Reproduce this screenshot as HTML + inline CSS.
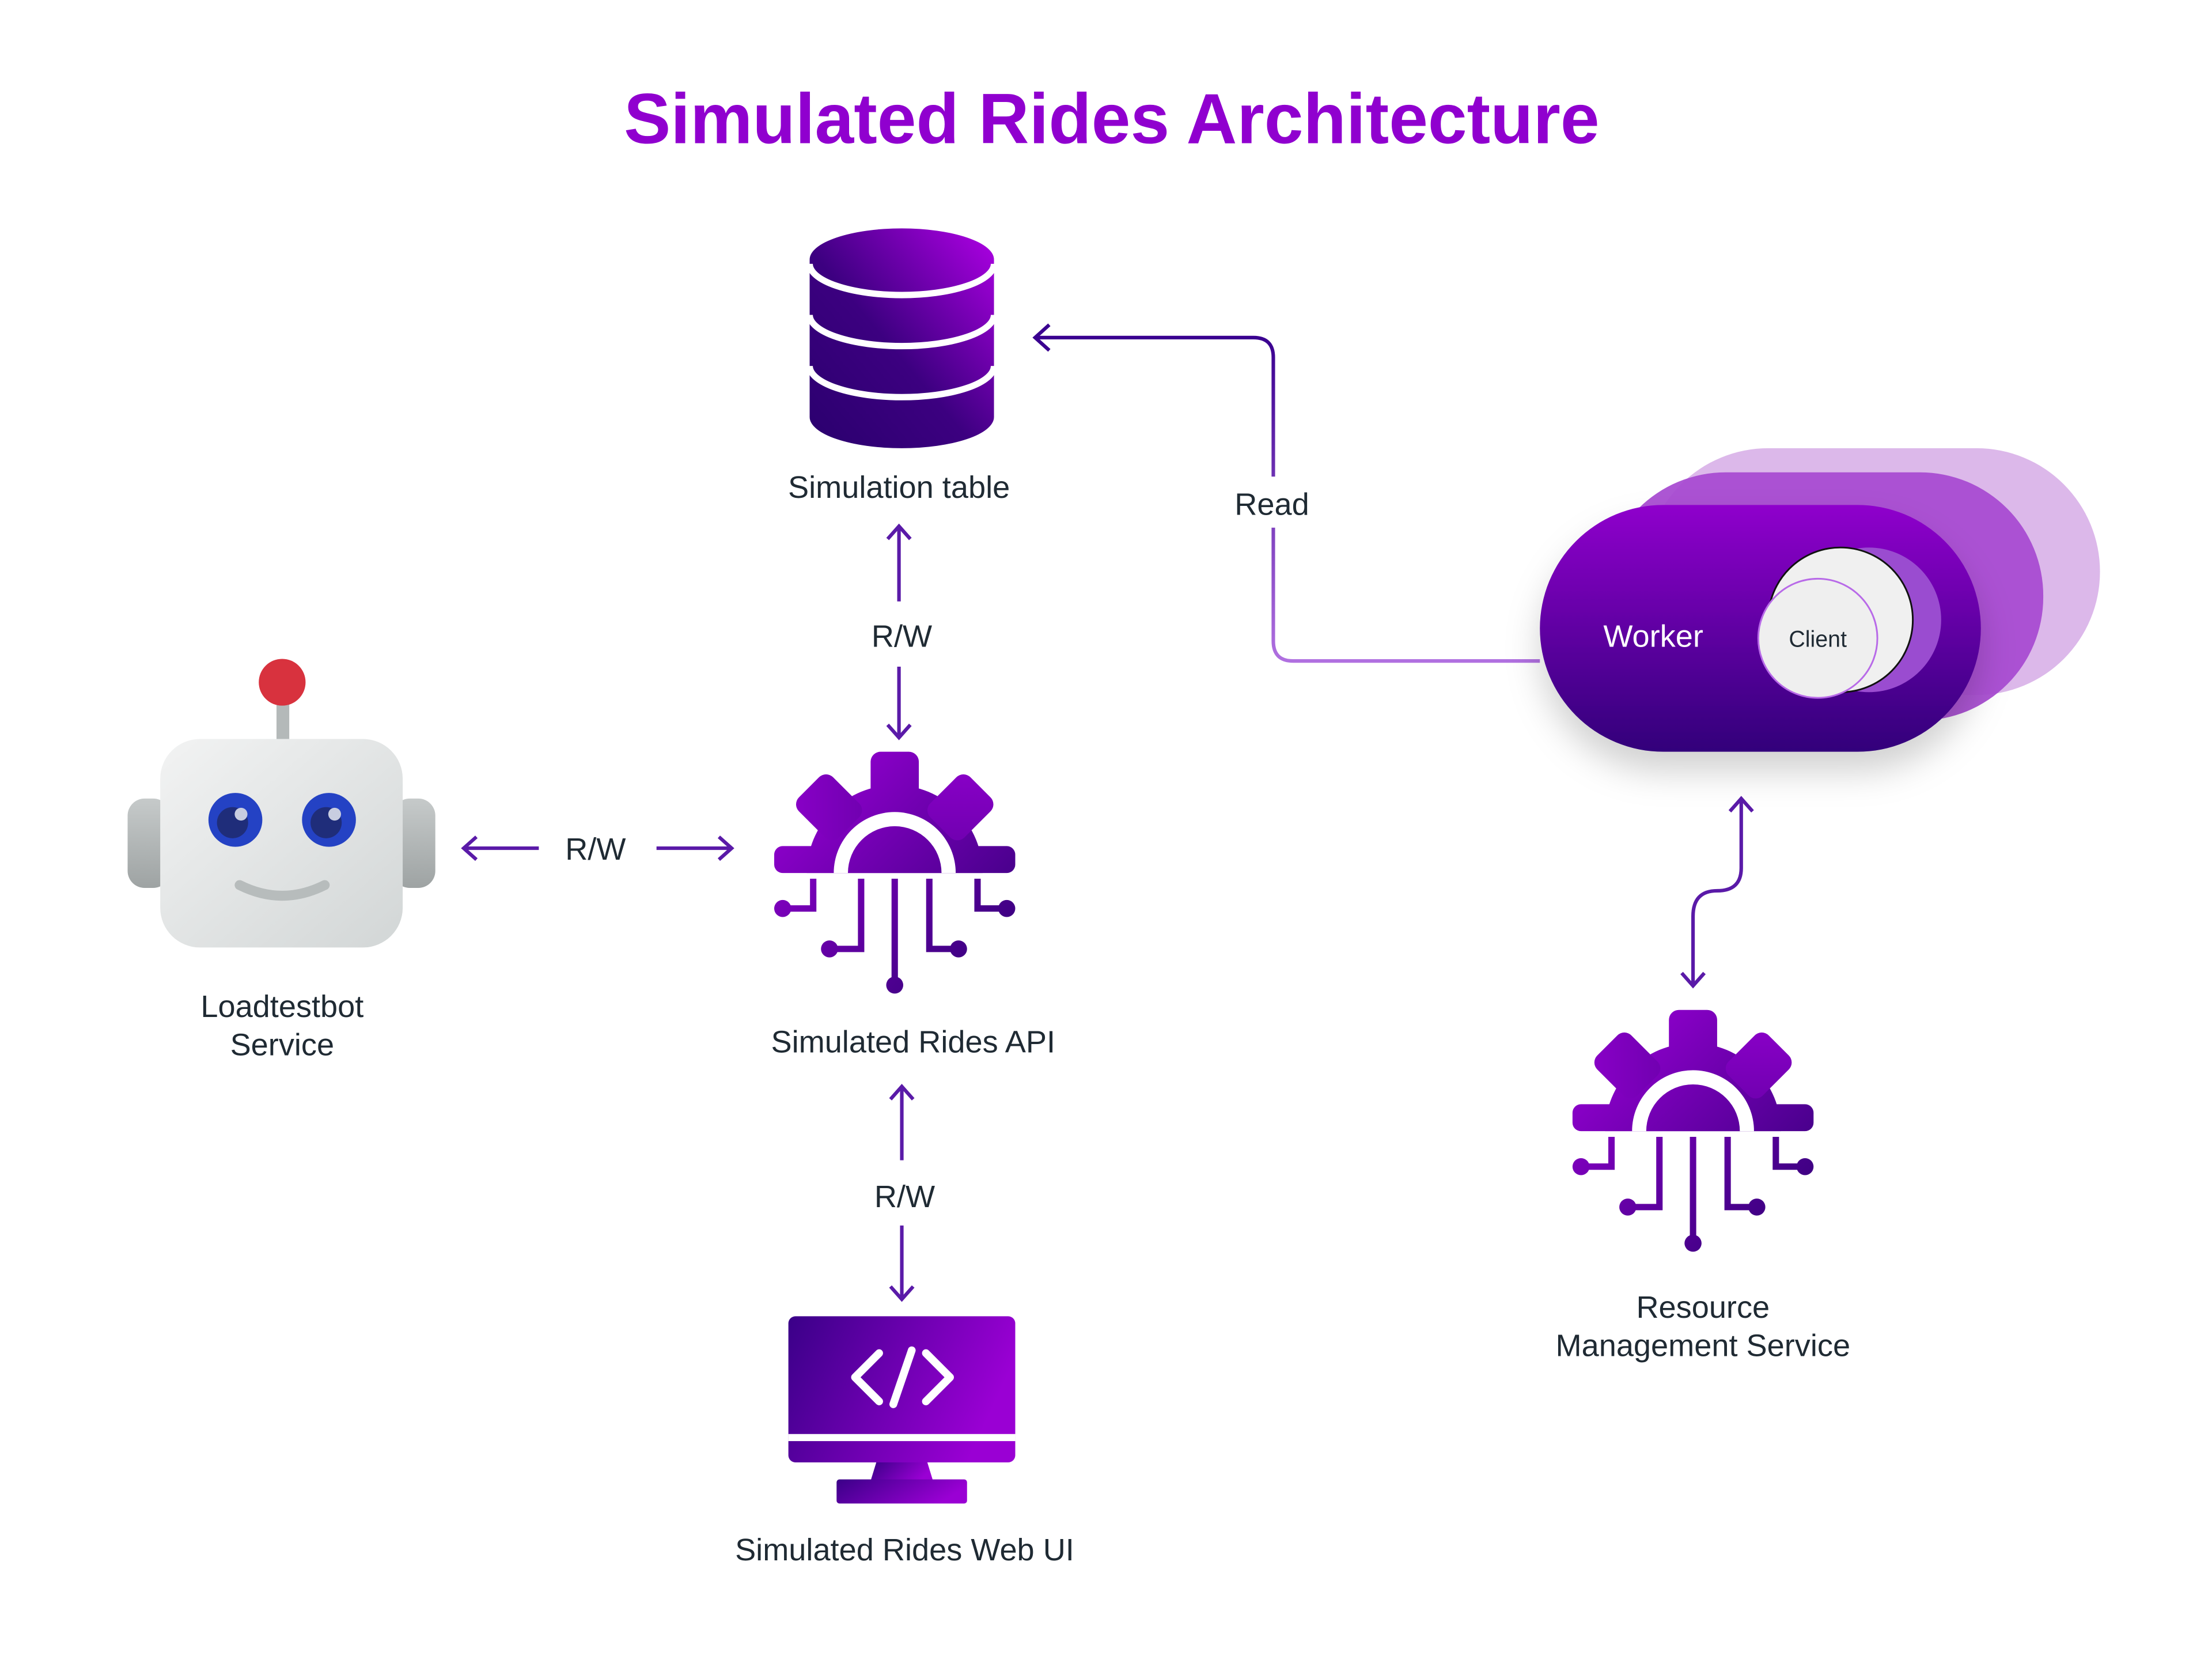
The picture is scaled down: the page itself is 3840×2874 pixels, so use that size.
<!DOCTYPE html>
<html><head><meta charset="utf-8"><style>
html,body{margin:0;padding:0;background:#fff;}
svg{display:block;}
text{font-family:"Liberation Sans",sans-serif;}
</style></head><body>
<svg width="3840" height="2874" viewBox="0 0 1560 1167.5" preserveAspectRatio="none" xmlns="http://www.w3.org/2000/svg">
<defs>
<linearGradient id="gg" gradientUnits="userSpaceOnUse" x1="-85" y1="-85" x2="85" y2="85">
<stop offset="0" stop-color="#a000dc"/><stop offset="1" stop-color="#2c0072"/></linearGradient>
<linearGradient id="dbg" x1="1" y1="0" x2="0" y2="1">
<stop offset="0" stop-color="#b000e6"/><stop offset="0.55" stop-color="#3c0080"/><stop offset="1" stop-color="#2a006e"/></linearGradient>
<linearGradient id="mon" x1="0" y1="0" x2="1" y2="0.3">
<stop offset="0" stop-color="#3a0088"/><stop offset="1" stop-color="#9a00d4"/></linearGradient>
<linearGradient id="wk" x1="0" y1="0" x2="0" y2="1">
<stop offset="0" stop-color="#8f00cc"/><stop offset="1" stop-color="#32007a"/></linearGradient>
<linearGradient id="head" x1="0" y1="0" x2="1" y2="1">
<stop offset="0" stop-color="#f2f3f3"/><stop offset="1" stop-color="#d2d6d6"/></linearGradient>
<linearGradient id="ear" x1="0" y1="0" x2="0" y2="1">
<stop offset="0" stop-color="#c6caca"/><stop offset="1" stop-color="#9ea3a3"/></linearGradient>
<linearGradient id="rd" x1="0" y1="1" x2="0" y2="0">
<stop offset="0" stop-color="#b070e0"/><stop offset="1" stop-color="#3a0090"/></linearGradient>
<filter id="sh" x="-20%" y="-20%" width="140%" height="160%"><feDropShadow dx="0" dy="14" stdDeviation="12" flood-color="#000" flood-opacity="0.18"/></filter>
<g id="gear">
 <g fill="url(#gg)">
  <path d="M-62,0 A62,62 0 0 1 62,0 Z"/>
  <rect x="-85" y="-19" width="170" height="19" rx="6"/>
  <rect x="-17" y="-85.5" width="34" height="40" rx="7"/>
  <rect x="-17" y="-85.5" width="34" height="40" rx="7" transform="rotate(-45)"/>
  <rect x="-17" y="-85.5" width="34" height="40" rx="7" transform="rotate(45)"/>
 </g>
 <path d="M-43,0 A43,43 0 0 1 43,0 Z" fill="#fff"/>
 <path d="M-33,0 A33,33 0 0 1 33,0 Z" fill="url(#gg)"/>
 <g stroke="url(#gg)" stroke-width="4.5" fill="none">
  <path d="M-57.5,4 V25 H-79"/>
  <path d="M-23.7,4 V53.5 H-46"/>
  <path d="M0,4 V78"/>
  <path d="M24.4,4 V53.5 H45"/>
  <path d="M58.4,4 V25 H79"/>
 </g>
 <g fill="url(#gg)">
  <circle cx="-79" cy="25" r="6"/><circle cx="-46" cy="53.5" r="6"/><circle cx="0" cy="79" r="6"/>
  <circle cx="45" cy="53.5" r="6"/><circle cx="79" cy="25" r="6"/>
 </g>
</g>
</defs>

<text x="784" y="101" text-anchor="middle" font-size="50" font-weight="bold" fill="#9000cf" textLength="688" lengthAdjust="spacingAndGlyphs">Simulated Rides Architecture</text>

<path d="M571,183 A65,22 0 0 1 701,183 V294 A65,22 0 0 1 571,294 Z" fill="url(#dbg)"/>
<g fill="none" stroke="#fff" stroke-width="4.5">
 <path d="M571,186 A65,22 0 0 0 701,186"/>
 <path d="M571,222 A65,22 0 0 0 701,222"/>
 <path d="M571,258 A65,22 0 0 0 701,258"/>
</g>
<text x="634" y="351" text-anchor="middle" font-size="22" fill="#1f2a33">Simulation table</text>

<path d="M1086,466 H912 Q898,466 898,452 V372 M898,336 V252 Q898,238 884,238 H730" fill="none" stroke="url(#rd)" stroke-width="2.5"/>
<path d="M740,229 L730,238 L740,247" fill="none" stroke="#3a0090" stroke-width="2.5"/>
<text x="897" y="363" text-anchor="middle" font-size="22" fill="#1f2a33">Read</text>

<g stroke="#5a1aa8" stroke-width="2.5" fill="none">
 <path d="M634,372 V424 M626,380 L634,371 L642,380"/>
 <path d="M634,470 V519 M626,511 L634,520 L642,511"/>
 <path d="M636,767 V818 M628,775 L636,766 L644,775"/>
 <path d="M636,864 V915 M628,907 L636,916 L644,907"/>
 <path d="M380,598 H328 M336,590 L327,598 L336,606"/>
 <path d="M463,598 H515 M507,590 L516,598 L507,606"/>
 <path d="M1228,564 V612 Q1228,628 1211,628 Q1194,628 1194,646 V694 M1220,572 L1228,563 L1236,572 M1186,686 L1194,695 L1202,686"/>
</g>
<text x="636" y="456" text-anchor="middle" font-size="22" fill="#1f2a33">R/W</text>
<text x="420" y="606" text-anchor="middle" font-size="22" fill="#1f2a33">R/W</text>
<text x="638" y="851" text-anchor="middle" font-size="22" fill="#1f2a33">R/W</text>

<use href="#gear" transform="translate(631,615.5)"/>
<text x="644" y="742" text-anchor="middle" font-size="22" fill="#1f2a33">Simulated Rides API</text>

<use href="#gear" transform="translate(1194,797.5)"/>
<text x="1201" y="929" text-anchor="middle" font-size="22" fill="#1f2a33">Resource</text>
<text x="1201" y="956" text-anchor="middle" font-size="22" fill="#1f2a33">Management Service</text>

<rect x="195" y="488" width="9" height="36" fill="#b4b9b9"/>
<circle cx="199" cy="481" r="16.5" fill="#d8323e"/>
<rect x="90" y="563" width="30" height="63" rx="12" fill="url(#ear)"/>
<rect x="277" y="563" width="30" height="63" rx="12" fill="url(#ear)"/>
<rect x="113" y="521" width="171" height="147" rx="28" fill="url(#head)"/>
<circle cx="166" cy="578" r="19" fill="#2442c4"/><circle cx="164" cy="580" r="11" fill="#1f2d7a"/><circle cx="170" cy="574" r="4.5" fill="#c8cde0"/>
<circle cx="232" cy="578" r="19" fill="#2442c4"/><circle cx="230" cy="580" r="11" fill="#1f2d7a"/><circle cx="236" cy="574" r="4.5" fill="#c8cde0"/>
<path d="M169,624 Q199,639 229,624" fill="none" stroke="#b7bcbc" stroke-width="7" stroke-linecap="round"/>
<text x="199" y="717" text-anchor="middle" font-size="22" fill="#1f2a33">Loadtestbot</text>
<text x="199" y="744" text-anchor="middle" font-size="22" fill="#1f2a33">Service</text>

<rect x="556" y="928" width="160" height="103" rx="5" fill="url(#mon)"/>
<rect x="556" y="1011" width="160" height="5" fill="#fff"/>
<path d="M618,1031 H654 L658,1044 H614 Z" fill="url(#mon)"/>
<rect x="590" y="1043" width="92" height="17" rx="2" fill="url(#mon)"/>
<g fill="none" stroke="#fff" stroke-width="5.5" stroke-linecap="round" stroke-linejoin="round">
 <path d="M620,954 L603,971 L620,988"/><path d="M643,952 L630,990"/><path d="M653,954 L670,971 L653,988"/>
</g>
<text x="638" y="1100" text-anchor="middle" font-size="22" fill="#1f2a33">Simulated Rides Web UI</text>

<rect x="1160" y="316" width="321" height="174" rx="87" fill="#d8b0e8" opacity="0.9"/>
<rect x="1130" y="333" width="311" height="175" rx="87" fill="#a648d0" opacity="0.92"/>
<rect x="1086" y="356" width="311" height="174" rx="87" fill="url(#wk)" filter="url(#sh)"/>
<circle cx="1318" cy="437" r="51" fill="#9a4cd0"/>
<circle cx="1298" cy="437" r="51" fill="#f0f0f0" stroke="#111" stroke-width="1.2"/>
<circle cx="1282" cy="450" r="42" fill="#efefef" stroke="#b86ae8" stroke-width="1.2"/>
<text x="1166" y="456" text-anchor="middle" font-size="22" fill="#fff">Worker</text>
<text x="1282" y="456" text-anchor="middle" font-size="16" fill="#1f2a33">Client</text>
</svg>
</body></html>
